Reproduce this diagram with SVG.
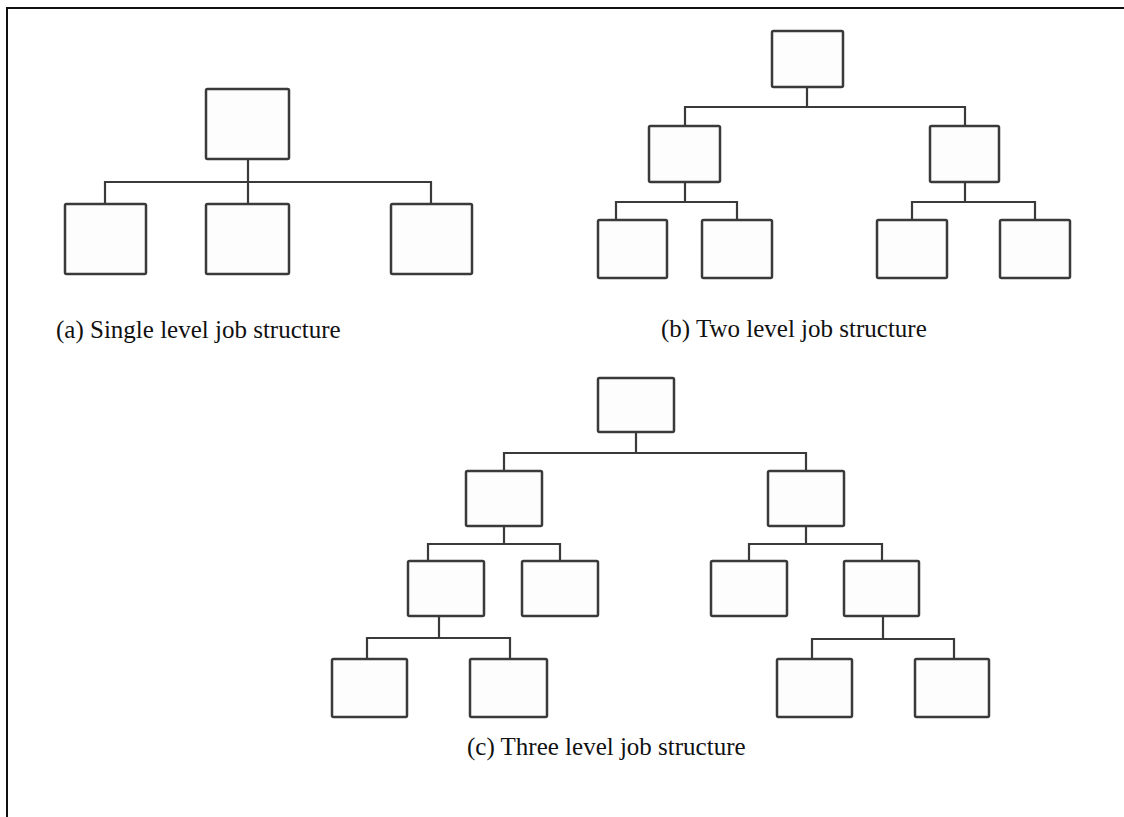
<svg xmlns="http://www.w3.org/2000/svg" width="1124" height="817" viewBox="0 0 1124 817">
<style>
.box{fill:#fdfdfd;stroke:#3a3a3a;stroke-width:2.5}
.ln{fill:none;stroke:#3a3a3a;stroke-width:2.2}
.lbl{font-family:"Liberation Serif","Times New Roman",serif;font-size:25px;fill:#111}
.frame{fill:none;stroke:#111;stroke-width:2}
</style>
<rect width="1124" height="817" fill="#fff"/>
<path class="frame" d="M7,817 V8 H1124"/>
<g id="connectors">
<!-- (a) -->
<path class="ln" d="M105,204 V182 H431 V204 M248,159 V204"/>
<!-- (b) -->
<path class="ln" d="M807,87 V107 M685,126 V107 H965 V126"/>
<path class="ln" d="M685,182 V202 M616,220 V202 H737 V220"/>
<path class="ln" d="M965,182 V202 M912,220 V202 H1035 V220"/>
<!-- (c) -->
<path class="ln" d="M636,432 V453 M504,471 V453 H806 V471"/>
<path class="ln" d="M504,526 V544 M428,561 V544 H560 V561"/>
<path class="ln" d="M806,526 V544 M749,561 V544 H882 V561"/>
<path class="ln" d="M439,616 V638 M367,659 V638 H510 V659"/>
<path class="ln" d="M883,616 V639 M812,659 V639 H954 V659"/>
</g>
<g id="a-root"><rect class="box" x="206" y="89" width="83" height="70" rx="1.5"/></g>
<g id="a-c1"><rect class="box" x="65" y="204" width="81" height="70" rx="1.5"/></g>
<g id="a-c2"><rect class="box" x="206" y="204" width="83" height="70" rx="1.5"/></g>
<g id="a-c3"><rect class="box" x="391" y="204" width="81" height="70" rx="1.5"/></g>
<g id="b-root"><rect class="box" x="772" y="31" width="71" height="56" rx="1.5"/></g>
<g id="b-l"><rect class="box" x="649" y="126" width="71" height="56" rx="1.5"/></g>
<g id="b-r"><rect class="box" x="930" y="126" width="69" height="56" rx="1.5"/></g>
<g id="b-ll"><rect class="box" x="598" y="220" width="69" height="58" rx="1.5"/></g>
<g id="b-lr"><rect class="box" x="702" y="220" width="70" height="58" rx="1.5"/></g>
<g id="b-rl"><rect class="box" x="877" y="220" width="70" height="58" rx="1.5"/></g>
<g id="b-rr"><rect class="box" x="1000" y="220" width="70" height="58" rx="1.5"/></g>
<g id="c-root"><rect class="box" x="598" y="378" width="76" height="54" rx="1.5"/></g>
<g id="c-l"><rect class="box" x="466" y="471" width="76" height="55" rx="1.5"/></g>
<g id="c-r"><rect class="box" x="768" y="471" width="76" height="55" rx="1.5"/></g>
<g id="c-ll"><rect class="box" x="408" y="561" width="76" height="55" rx="1.5"/></g>
<g id="c-lr"><rect class="box" x="522" y="561" width="76" height="55" rx="1.5"/></g>
<g id="c-rl"><rect class="box" x="711" y="561" width="76" height="55" rx="1.5"/></g>
<g id="c-rr"><rect class="box" x="844" y="561" width="75" height="55" rx="1.5"/></g>
<g id="c-lll"><rect class="box" x="332" y="659" width="75" height="58" rx="1.5"/></g>
<g id="c-llr"><rect class="box" x="470" y="659" width="77" height="58" rx="1.5"/></g>
<g id="c-rrl"><rect class="box" x="777" y="659" width="75" height="58" rx="1.5"/></g>
<g id="c-rrr"><rect class="box" x="915" y="659" width="74" height="58" rx="1.5"/></g>
<text class="lbl" x="56" y="338">(a) Single level job structure</text>
<text class="lbl" x="661" y="337">(b) Two level job structure</text>
<text class="lbl" x="467" y="755">(c) Three level job structure</text>
</svg>
